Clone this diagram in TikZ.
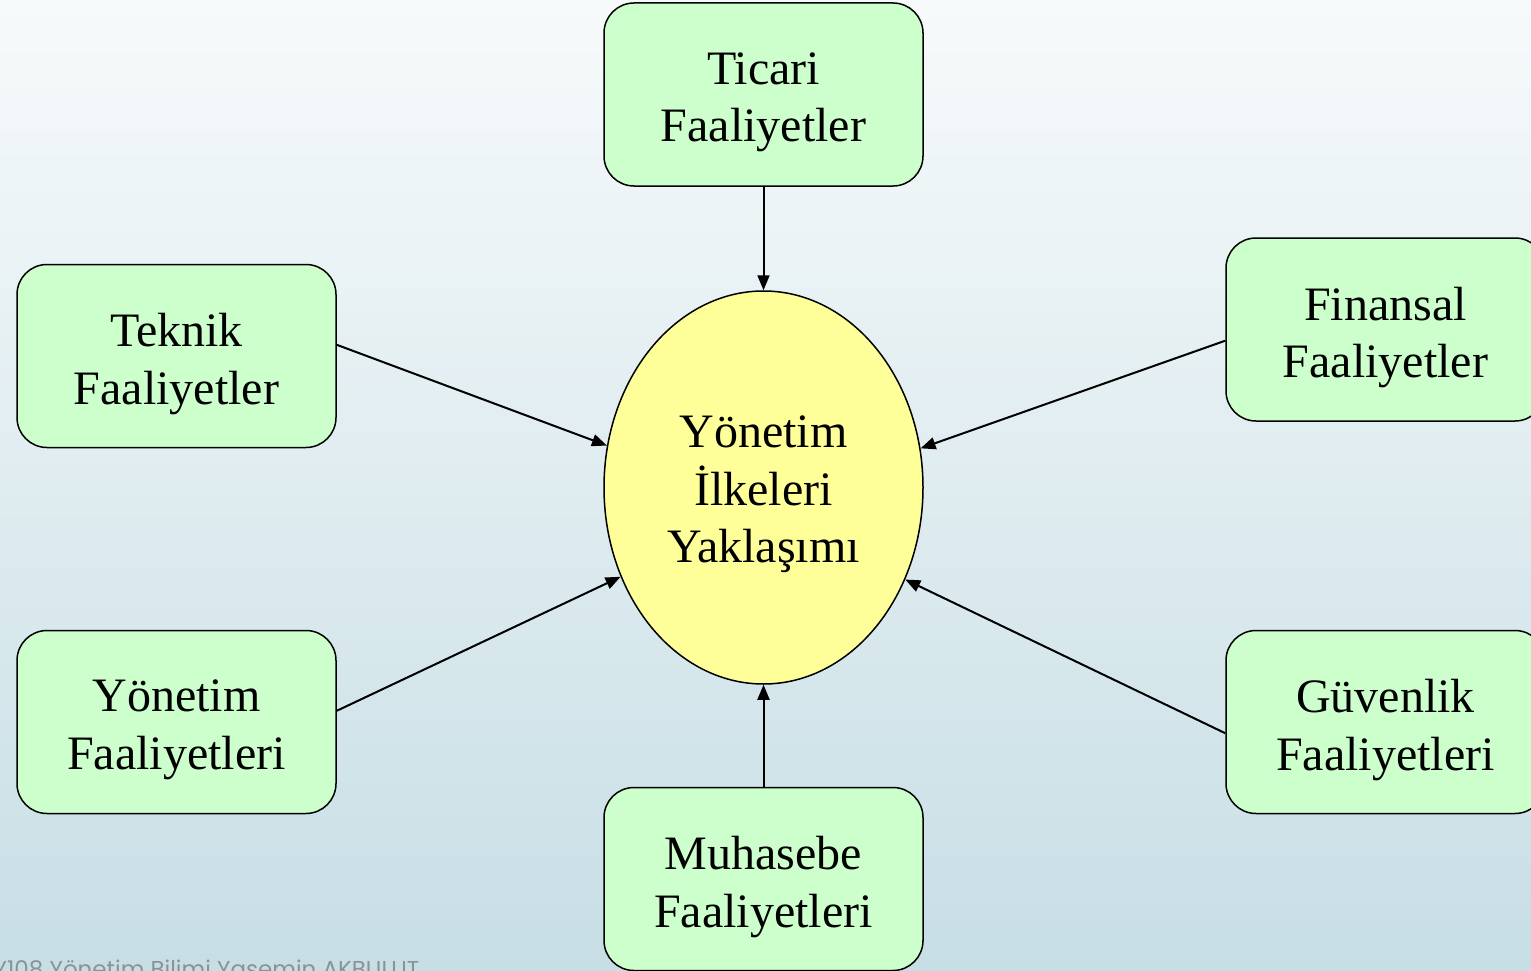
\documentclass[tikz,border=0pt]{standalone}
\usepackage{fontspec}
\setmainfont{Liberation Serif}
\newfontfamily\footfont{Poppins}
\usetikzlibrary{arrows.meta,shapes.geometric}
\definecolor{bgtop}{HTML}{F7FAFB}
\definecolor{bgbot}{HTML}{C7DEE5}
\definecolor{boxgreen}{HTML}{CCFFCC}
\definecolor{ellyellow}{HTML}{FFFF99}
\definecolor{footgray}{HTML}{8A9396}
\tikzset{
  actbox/.style={draw=black, line width=1.5pt, fill=boxgreen, rounded corners=30pt,
    minimum width=319pt, minimum height=183pt, inner sep=0pt},
  centre/.style={ellipse, draw=black, line width=1.5pt, fill=ellyellow,
    minimum width=319pt, minimum height=393pt, inner sep=0pt},
  txt/.style={align=center, inner sep=0pt, font=\fontsize{48}{57.5}\selectfont},
  link/.style={line width=2pt, -{Triangle[length=15pt,width=12pt]}},
  foot/.style={text=footgray, font=\footfont\fontsize{23}{26}\selectfont, anchor=base west, inner sep=0pt}
}
\begin{document}
\begin{tikzpicture}[x=1pt,y=-1pt]
\shade[top color=bgtop, bottom color=bgbot] (0,0) rectangle (1531,971);
\useasboundingbox (0,0) rectangle (1531,971);
\node[centre] (yon) at (763.5,487.5) {};
\node[actbox] (ticari) at (763.5,94.5) {};
\node[actbox] (teknik) at (176.5,356) {};
\node[actbox] (finansal) at (1385.5,329.5) {};
\node[actbox] (yonetimf) at (176.5,722) {};
\node[actbox] (guvenlik) at (1385.5,722) {};
\node[actbox] (muhasebe) at (763.5,879) {};
\node[txt] (yontxt) at ([yshift=-7pt]yon.center) {Yönetim\\İlkeleri\\Yaklaşımı};
\node[txt] (ticaritxt) at ([yshift=-8pt]ticari.center) {Ticari\\Faaliyetler};
\node[txt] (teknitxt) at ([yshift=-8pt]teknik.center) {Teknik\\Faaliyetler};
\node[txt] (finanstxt) at ([yshift=-8pt]finansal.center) {Finansal\\Faaliyetler};
\node[txt] (yonftxt) at ([yshift=-8pt]yonetimf.center) {Yönetim\\Faaliyetleri};
\node[txt] (guvtxt) at ([yshift=-8pt]guvenlik.center) {Güvenlik\\Faaliyetleri};
\node[txt] (muhtxt) at ([yshift=-8pt]muhasebe.center) {Muhasebe\\Faaliyetleri};
\draw[link] (ticari.south) -- (yon.north);
\draw[link] (muhasebe.north) -- (yon.south);
\draw[link] (teknik.4.66) -- (yon.165.75);
\draw[link] (finansal.184.84) -- (yon.14.08);
\draw[link] (yonetimf.4.66) -- (yon.212.5);
\draw[link] (guvenlik.184.66) -- (yon.327.3);
\node[foot] (footer) at (-6.5,977) {Y108 Yönetim Bilimi Yasemin AKBULUT};
\end{tikzpicture}
\end{document}
